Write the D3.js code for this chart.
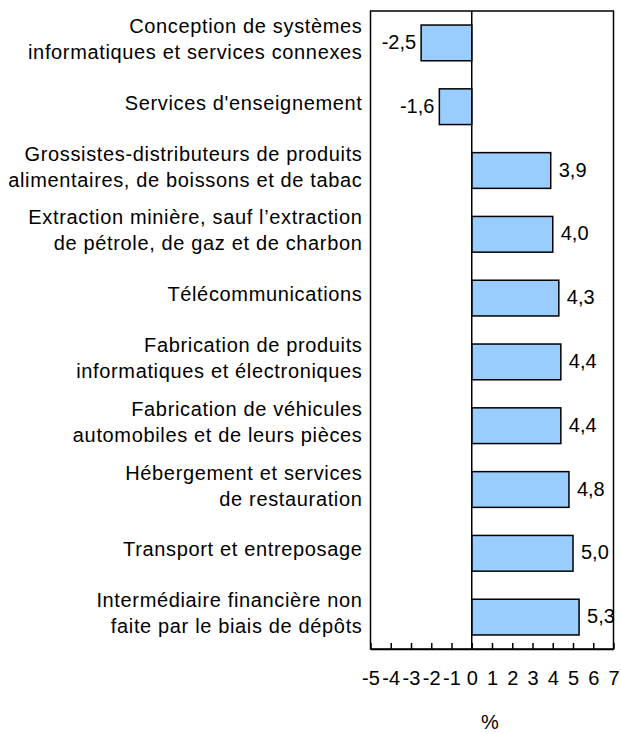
<!DOCTYPE html>
<html>
<head>
<meta charset="utf-8">
<script src="https://cdnjs.cloudflare.com/ajax/libs/d3/7.8.5/d3.min.js"></script>
<style>
  body { margin: 0; background: #fff; }
  text { font-family: "Liberation Sans", Arial, sans-serif; fill: #000; }
</style>
</head>
<body>
<div id="chart"></div>
<script>
        // categories, each one split into its printed lines
        var categories = [
            ["Conception de systèmes", "informatiques et services connexes"],
            ["Services d'enseignement"],
            ["Grossistes-distributeurs de produits", "alimentaires, de boissons et de tabac"],
            ["Extraction minière, sauf l’extraction", "de pétrole, de gaz et de charbon"],
            ["Télécommunications"],
            ["Fabrication de produits", "informatiques et électroniques"],
            ["Fabrication de véhicules", "automobiles et de leurs pièces"],
            ["Hébergement et services", "de restauration"],
            ["Transport et entreposage"],
            ["Intermédiaire financière non", "faite par le biais de dépôts"]
        ];
        var values = [-2.5, -1.6, 3.9, 4.0, 4.3, 4.4, 4.4, 4.8, 5.0, 5.3];
        var tickValues = [-5, -4, -3, -2, -1, 0, 1, 2, 3, 4, 5, 6, 7];
        var axisTitle = "%";

        var width = 621,
            height = 734;

        var margin = {left: 370.5, right: 7.5, top: 11, bottom: 85};

        var svg = d3.select("#chart")
                .append("svg")
                .attr("width", width)
                .attr("height", height);

        var x = d3.scaleLinear()
            .domain([-5, 7])
            .range([margin.left, width - margin.right]);

        var y = d3.scaleBand()
            .domain(d3.range(categories.length))
            .range([margin.top, height - margin.bottom])
            .paddingInner(0.44)
            .paddingOuter(0.22);

        var fmt = function(v) { return d3.format(".1f")(v).replace(".", ",").replace("−", "-"); };

        // bars
        svg.selectAll(".bar")
            .data(values)
            .enter().append("rect")
            .attr("class", "bar")
            .attr("x", function(d) { return x(Math.min(0, d)); })
            .attr("y", function(d, i) { return y(i); })
            .attr("width", function(d) { return Math.abs(x(d) - x(0)); })
            .attr("height", y.bandwidth())
            .attr("fill", "#99ccff")
            .attr("stroke", "#000")
            .attr("stroke-width", 1.5);

        // value labels
        svg.selectAll(".value")
            .data(values)
            .enter().append("text")
            .attr("class", "value")
            .attr("x", function(d) { return d < 0 ? x(d) - 5 : x(d) + 8; })
            .attr("y", function(d, i) { return y(i) + y.bandwidth() / 2 + 6; })
            .attr("text-anchor", function(d) { return d < 0 ? "end" : "start"; })
            .style("font-size", "20px")
            .text(fmt);

        // category labels
        var labels = svg.selectAll(".cat")
            .data(categories)
            .enter().append("text")
            .attr("class", "cat")
            .attr("text-anchor", "end")
            .style("font-size", "20px")
            .style("letter-spacing", "0.65px");

        labels.each(function(lines, i) {
            var c = y(i) + y.bandwidth() / 2;
            var t = d3.select(this);
            lines.forEach(function(line, j) {
                var base = lines.length == 1 ? c + 3 : c - 10 + j * 26;
                t.append("tspan")
                    .attr("x", margin.left - 8)
                    .attr("y", base)
                    .text(line);
            });
        });

        // frame
        svg.append("rect")
            .attr("x", margin.left)
            .attr("y", margin.top)
            .attr("width", width - margin.right - margin.left)
            .attr("height", height - margin.bottom - margin.top)
            .attr("fill", "none")
            .attr("stroke", "#000")
            .attr("stroke-width", 1.5);

        // zero line
        svg.append("line")
            .attr("x1", x(0)).attr("x2", x(0))
            .attr("y1", margin.top).attr("y2", height - margin.bottom)
            .attr("stroke", "#000")
            .attr("stroke-width", 1.5);

        // x axis, ticks pointing up into the plot
        var axis = svg.append("g")
            .attr("transform", "translate(0," + (height - margin.bottom) + ")")
            .call(d3.axisBottom(x)
                .tickValues(tickValues)
                .tickSizeInner(-6)
                .tickSizeOuter(0)
                .tickPadding(22)
                .tickFormat(function(d) { return String(d); }));

        axis.select(".domain").attr("stroke", "#000").attr("stroke-width", 1.5);
        axis.selectAll(".tick line").attr("stroke", "#000").attr("stroke-width", 1.5);
        axis.selectAll(".tick text")
            .attr("dy", "0.71em")
            .style("font-size", "20px")
            .style("font-family", "\"Liberation Sans\", Arial, sans-serif")
            .attr("fill", "#000");

        svg.append("text")
            .attr("x", (x.range()[0] + x.range()[1]) / 2 - 2)
            .attr("y", 729)
            .attr("text-anchor", "middle")
            .style("font-size", "20px")
            .text(axisTitle);
</script>
</body>
</html>
